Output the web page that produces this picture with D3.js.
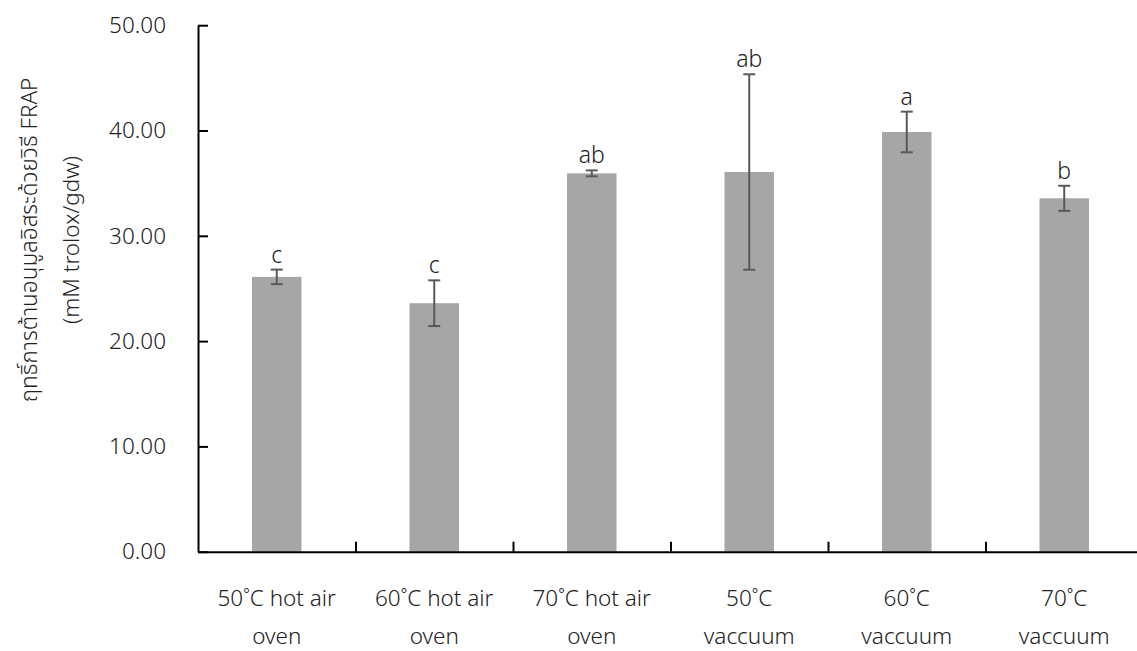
<!DOCTYPE html>
<html>
<head>
<meta charset="utf-8">
<script src="https://cdn.jsdelivr.net/npm/d3@7"></script>
<style>
  html, body { margin: 0; padding: 0; background: #fff; }
  svg { display: block; }
  text { font-family: "Noto Sans", "Noto Sans Thai", "Open Sans", sans-serif; fill: #222; font-weight: 300; }
</style>
</head>
<body>
<svg id="chart" width="1137" height="651"></svg>
<script>
// Drying treatments (two-line labels)
const categories = [
  ["50˚C hot air", "oven"],
  ["60˚C hot air", "oven"],
  ["70˚C hot air", "oven"],
  ["50˚C", "vaccuum"],
  ["60˚C", "vaccuum"],
  ["70˚C", "vaccuum"]
];
// FRAP antioxidant activity, mean and standard deviation
const means = [26.1, 23.6, 35.93, 36.06, 39.86, 33.56];
const errors = [0.69, 2.17, 0.28, 9.28, 1.93, 1.19];
// Significance letters
const letters = ["c", "c", "ab", "ab", "a", "b"];
const yTicks = [0, 10, 20, 30, 40, 50];
const yTitle = ["ฤทธิ์การต้านอนุมูลอิสระด้วยวิธี FRAP", "(mM trolox/gdw)"];

const FS = 22.5;
const svg = d3.select("#chart");
const margin = { left: 198, top: 25.2, bottom: 99.3 };
const plotBottom = 651 - margin.bottom;

const x = d3.scaleBand()
  .domain(d3.range(categories.length))
  .range([margin.left, margin.left + 6 * 157.5])
  .paddingInner(0)
  .paddingOuter(0);

const y = d3.scaleLinear().domain([0, 50]).range([plotBottom, margin.top]);

const barW = 49.5;

// bars
svg.append("g").selectAll("rect")
  .data(means)
  .join("rect")
  .attr("x", (d, i) => x(i) + x.bandwidth() / 2 - barW / 2)
  .attr("y", d => y(d))
  .attr("width", barW)
  .attr("height", d => y(0) - y(d))
  .attr("fill", "#a6a6a6");

// error bars
const eb = svg.append("g").attr("stroke", "#595959").attr("stroke-width", 2);
means.forEach((m, i) => {
  const cx = x(i) + x.bandwidth() / 2;
  const hi = y(m + errors[i]), lo = y(m - errors[i]);
  eb.append("line").attr("x1", cx).attr("x2", cx).attr("y1", hi).attr("y2", lo);
  eb.append("line").attr("x1", cx - 6).attr("x2", cx + 6).attr("y1", hi).attr("y2", hi);
  eb.append("line").attr("x1", cx - 6).attr("x2", cx + 6).attr("y1", lo).attr("y2", lo);
});

// significance letters
svg.append("g").selectAll("text")
  .data(letters)
  .join("text")
  .attr("x", (d, i) => x(i) + x.bandwidth() / 2)
  .attr("y", (d, i) => y(means[i] + errors[i]) - 7)
  .attr("text-anchor", "middle")
  .attr("font-size", FS + 0.5)
  .text(d => d);

// y axis (ticks point inward)
const yAxis = svg.append("g")
  .attr("transform", `translate(${margin.left},0)`)
  .call(d3.axisLeft(y).tickValues(yTicks).tickFormat(d3.format(".2f")).tickSizeInner(-10).tickSizeOuter(0).tickPadding(32));
yAxis.select(".domain").attr("stroke", "#000").attr("stroke-width", 2);
yAxis.selectAll(".tick line").attr("stroke", "#000").attr("stroke-width", 2);
yAxis.selectAll(".tick text").attr("font-size", FS).attr("fill", "#222")
  .style("font-family", '"Noto Sans", sans-serif').style("font-weight", 300);

// x axis (ticks on category boundaries, pointing up)
const xEdge = d3.scaleLinear().domain([0, 6]).range(x.range());
const xAxis = svg.append("g")
  .attr("transform", `translate(0,${plotBottom})`)
  .call(d3.axisBottom(xEdge).tickValues([1, 2, 3, 4, 5]).tickFormat("").tickSizeInner(-10).tickSizeOuter(0));
xAxis.select(".domain").attr("stroke", "#000").attr("stroke-width", 2);
xAxis.selectAll(".tick line").attr("stroke", "#000").attr("stroke-width", 2);

// category labels
const catG = svg.append("g");
categories.forEach((lines, i) => {
  const t = catG.append("text")
    .attr("x", x(i) + x.bandwidth() / 2)
    .attr("y", 606)
    .attr("text-anchor", "middle")
    .attr("font-size", FS);
  lines.forEach((s, k) => {
    t.append("tspan").attr("x", x(i) + x.bandwidth() / 2).attr("dy", k === 0 ? 0 : 38).text(s);
  });
});

// y axis title
const yt = svg.append("text")
  .attr("transform", "translate(30,240) rotate(-90)")
  .attr("text-anchor", "middle")
  .attr("font-size", FS);
yTitle.forEach((s, k) => {
  yt.append("tspan").attr("x", 0).attr("dy", k === 0 ? 7 : 42).text(s);
});
</script>
</body>
</html>
